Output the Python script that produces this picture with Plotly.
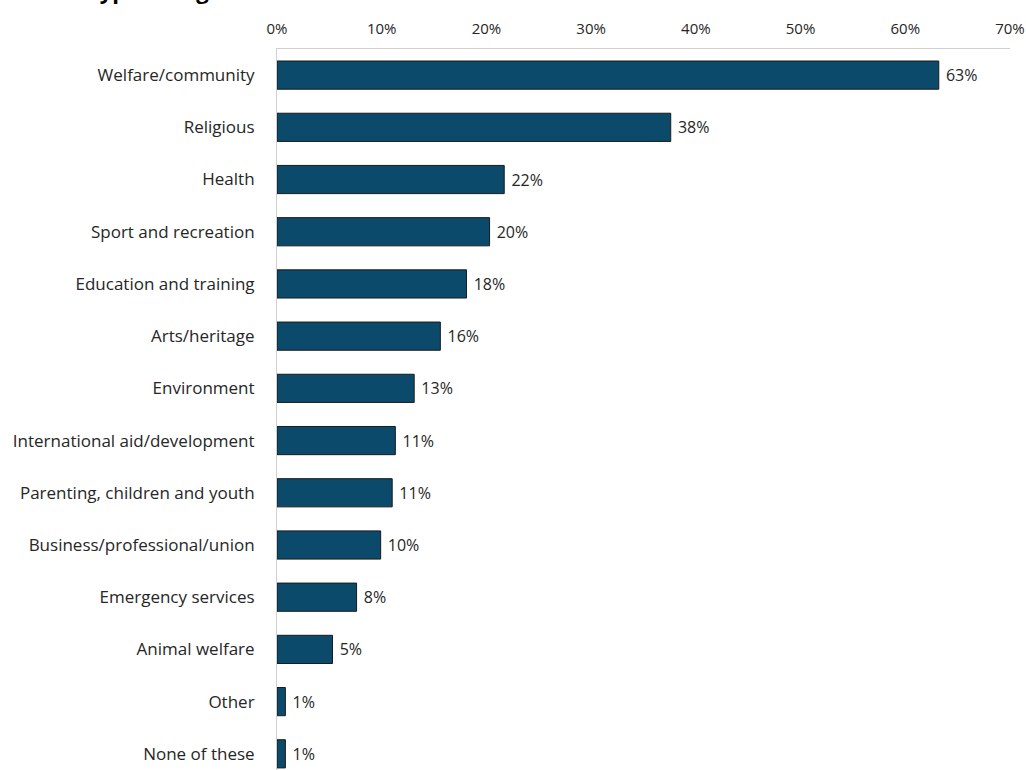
import plotly.graph_objects as go

categories = [
    "Welfare/community", "Religious", "Health", "Sport and recreation",
    "Education and training", "Arts/heritage", "Environment",
    "International aid/development", "Parenting, children and youth",
    "Business/professional/union", "Emergency services", "Animal welfare",
    "Other", "None of these",
]
values = [63.2, 37.6, 21.7, 20.3, 18.1, 15.6, 13.1, 11.3, 11.0, 9.9, 7.6, 5.3, 0.8, 0.8]
tick_vals = [0, 10, 20, 30, 40, 50, 60, 70]
tick_text = [f"{v}%" for v in tick_vals]
title_text = "Type of organisation"

FONT = "Open Sans"
fig = go.Figure(go.Bar(
    x=values, y=categories, orientation="h",
    marker=dict(color="#0b4a6a", line=dict(color="#1a1a1a", width=1)),
    texttemplate="\u00a0%{x:.0f}%", textposition="outside",
    textfont=dict(family=FONT, size=16, color="#262626"),
    cliponaxis=False, width=0.54,
))
fig.update_layout(
    width=1026, height=770,
    margin=dict(l=277, r=16, t=49, b=0),
    paper_bgcolor="white", plot_bgcolor="white",
    showlegend=False,
    font=dict(family=FONT, size=17, color="#262626"),
    xaxis=dict(side="top", range=[0, 70], tickvals=tick_vals, ticktext=tick_text,
               showgrid=False, showline=True, linecolor="#d0d0d0", linewidth=1,
               ticks="", ticklabelstandoff=8, zeroline=False, fixedrange=True,
               automargin=False, tickfont=dict(size=15), ticklabeloverflow="allow"),
    yaxis=dict(categoryorder="array", categoryarray=categories,
               range=[13.31, -0.5], showgrid=False, showline=True,
               linecolor="#d0d0d0", linewidth=1, ticks="", ticklabelstandoff=18,
               fixedrange=True, automargin=False),
    annotations=[dict(text=f"<b>{title_text}</b>", xref="paper", yref="paper",
                      x=-0.262, y=1, yshift=42, xanchor="left", yanchor="bottom",
                      showarrow=False, font=dict(family="Open Sans", size=22, color="black"))],
)
fig.write_html("out.html", config={"displayModeBar": False},
               post_script="document.body.style.margin='0';")
